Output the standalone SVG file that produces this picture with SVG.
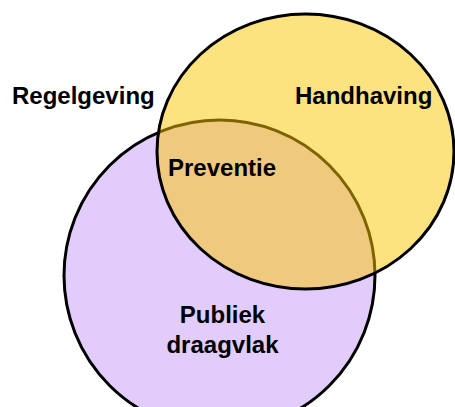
<svg xmlns="http://www.w3.org/2000/svg" width="455" height="407" viewBox="0 0 455 407">
<style>
.lbl{font-family:"Liberation Sans",Arial,sans-serif;font-weight:bold;font-size:24px;fill:#000}
.shape{stroke:#000;stroke-width:3}
</style>
<rect width="455" height="407" fill="#fff"/>
<g id="publiek-draagvlak">
<circle class="shape" cx="219.5" cy="275.5" r="155.5" fill="#E1CCFB"/>
</g>
<g id="handhaving">
<ellipse cx="305.5" cy="151.5" rx="148.5" ry="137.5" fill="#FBC601" fill-opacity="0.5"/>
<ellipse cx="305.5" cy="151.5" rx="148.5" ry="137.5" fill="none" stroke="#000" stroke-width="3"/>
</g>
<g id="regelgeving"><text class="lbl" x="12" y="104">Regelgeving</text></g>
<g id="handhaving-label"><text class="lbl" x="295" y="104">Handhaving</text></g>
<g id="preventie"><text class="lbl" x="168" y="176">Preventie</text></g>
<g id="publiek-label"><text class="lbl" x="222.5" y="323" text-anchor="middle">Publiek</text><text class="lbl" x="222.5" y="353" text-anchor="middle">draagvlak</text></g>
<g id="connectors"/>
</svg>
